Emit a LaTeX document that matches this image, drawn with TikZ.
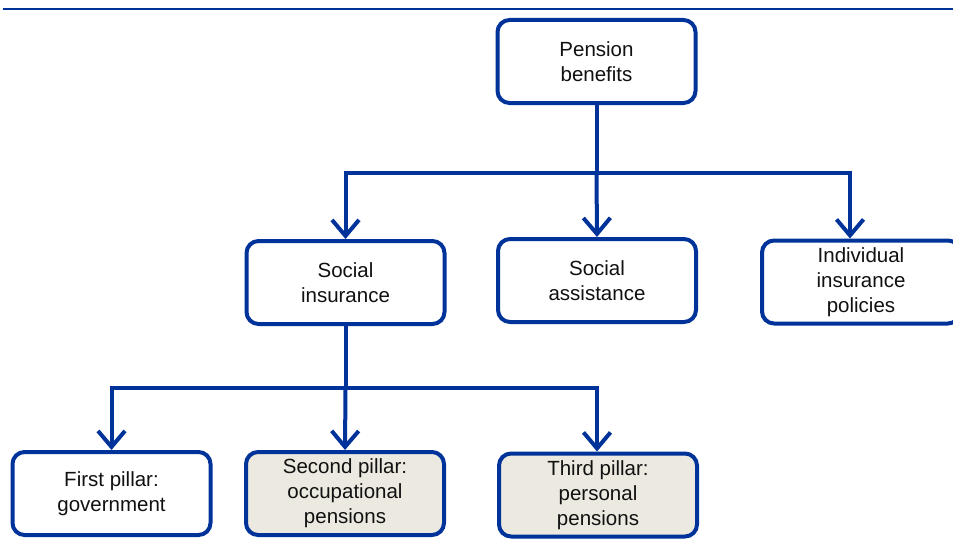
\documentclass[tikz,border=0pt]{standalone}
\usepackage{fontspec}
\setmainfont{Liberation Sans}
\usetikzlibrary{arrows.meta}
\definecolor{navy}{HTML}{003399}
\definecolor{beige}{HTML}{ECEAE0}
\definecolor{txt}{HTML}{111111}
\begin{document}
\begin{tikzpicture}[x=1pt,y=-1pt,
  box/.style={draw=navy, line width=4pt, rounded corners=12pt, minimum width=198pt, minimum height=83pt,
    align=center, font=\fontsize{20.5}{25}\selectfont, text=txt, fill=white, inner sep=0pt},
  shade/.style={fill=beige},
  conn/.style={draw=navy, line width=4pt},
  arr/.style={conn, -{Straight Barb[length=16pt,width=27pt,line width=4pt]}}]
\useasboundingbox (0,0) rectangle (953,551);
\draw[navy, line width=2pt] (3,9) -- (953,9);
\node[box] (pb) at (596.5,61.5) {Pension\\benefits};
\node[box] (si) at (345.5,282.5) {Social\\insurance};
\node[box] (sa) at (597,280.5) {Social\\assistance};
\node[box] (ii) at (861,282) {Individual\\insurance\\policies};
\node[box] (fp) at (111.5,493.5) {First pillar:\\government};
\node[box,shade] (sp) at (345,493.5) {Second pillar:\\occupational\\pensions};
\node[box,shade] (tp) at (598,495) {Third pillar:\\personal\\pensions};
\coordinate (j1) at (596.5,173);
\coordinate (j2) at (345.5,388);
\draw[conn] (pb.south) -- (j1);
\draw[arr] (j1) -| (si.north);
\draw[arr] (j1) -- (sa.north);
\draw[arr] (j1) -| ([xshift=-11pt]ii.north);
\draw[conn] (si.south) -- (j2);
\draw[arr] (j2) -| (fp.north);
\draw[arr] (j2) -- (sp.north);
\draw[arr] (j2) -| (tp.north -| sa.north);
\end{tikzpicture}
\end{document}
